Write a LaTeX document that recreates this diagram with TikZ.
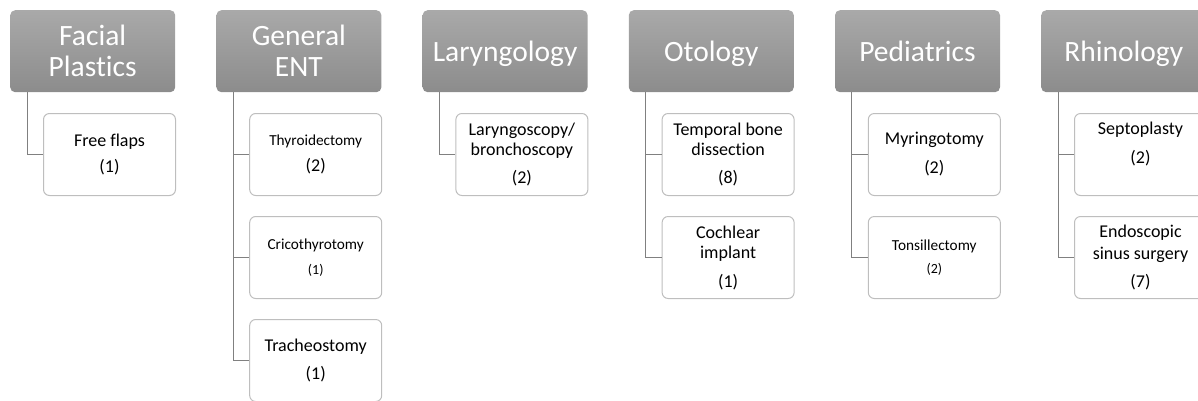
\documentclass[tikz,border=0pt]{standalone}
\usepackage{fontspec}
\setmainfont[Ligatures={NoCommon}]{Carlito}
\definecolor{headtop}{HTML}{A9A9A9}
\definecolor{headbot}{HTML}{8C8C8C}
\definecolor{itemline}{HTML}{BEBEBE}
\definecolor{connc}{HTML}{808080}
\begin{document}
\begin{tikzpicture}[x=1pt,y=-1pt,
  head/.style={draw=none, rounded corners=5pt, top color=headtop, bottom color=headbot,
    minimum width=165pt, minimum height=82pt, text=white, align=center, inner sep=0pt,
    text depth=0pt, font=\fontsize{29.5}{31}\selectfont, anchor=north west},
  item/.style={draw=itemline, line width=1pt, rounded corners=6pt, fill=white,
    minimum width=132pt, minimum height=82pt, align=center, inner sep=0pt,
    font=\fontsize{18}{20}\selectfont, anchor=north west},
  conn/.style={draw=connc, line width=1pt}]
\useasboundingbox (0,0) rectangle (1198,400);
\clip (0,0) rectangle (1198,400);
% headers
\node[head] (h1) at (10,10) {Facial\\Plastics};
\node[head] (h2) at (216.2,10) {General\\ENT};
\node[head] (h3) at (422.4,10) {Laryngology};
\node[head] (h4) at (628.6,10) {Otology};
\node[head] (h5) at (834.8,10) {Pediatrics};
\node[head] (h6) at (1041,10) {Rhinology};
% items
\node[item] (c1) at (43,113) {Free flaps\\[6pt](1)};
\node[item] (c2a) at (249.2,113) {{\fontsize{15.3}{18}\selectfont Thyroidectomy}\\[6pt](2)};
\node[item] (c2b) at (249.2,216) {{\fontsize{15.3}{18}\selectfont Cricothyrotomy}\\[5pt]{\fontsize{14}{16}\selectfont (1)}};
\node[item] (c2c) at (249.2,319) {Tracheostomy\\[8pt](1)};
\node[item] (c3) at (455.4,113) {Laryngoscopy/\\bronchoscopy\\[8pt](2)};
\node[item] (c4a) at (661.6,113) {Temporal bone\\dissection\\[8pt](8)};
\node[item] (c4b) at (661.6,216) {Cochlear\\implant\\[9pt](1)};
\node[item] (c5a) at (867.8,113) {Myringotomy\\[9pt](2)};
\node[item] (c5b) at (867.8,216) {{\fontsize{15.3}{18}\selectfont Tonsillectomy}\\[3pt]{\fontsize{14}{16}\selectfont (2)}};
\node[item] (c6a) at (1074,113) {Septoplasty\\[9pt](2)\\[4pt]\mbox{}};
\node[item] (c6b) at (1074,216) {Endoscopic\\[2pt]sinus surgery\\[8pt](7)};
% connectors
\draw[conn] ([xshift=17pt]h1.south west) |- (c1.west);
\draw[conn] ([xshift=17pt]h2.south west) |- (c2a.west);
\draw[conn] ([xshift=17pt]h2.south west) |- (c2b.west);
\draw[conn] ([xshift=17pt]h2.south west) |- (c2c.west);
\draw[conn] ([xshift=17pt]h3.south west) |- (c3.west);
\draw[conn] ([xshift=17pt]h4.south west) |- (c4a.west);
\draw[conn] ([xshift=17pt]h4.south west) |- (c4b.west);
\draw[conn] ([xshift=17pt]h5.south west) |- (c5a.west);
\draw[conn] ([xshift=17pt]h5.south west) |- (c5b.west);
\draw[conn] ([xshift=17pt]h6.south west) |- (c6a.west);
\draw[conn] ([xshift=17pt]h6.south west) |- (c6b.west);
\end{tikzpicture}
\end{document}
